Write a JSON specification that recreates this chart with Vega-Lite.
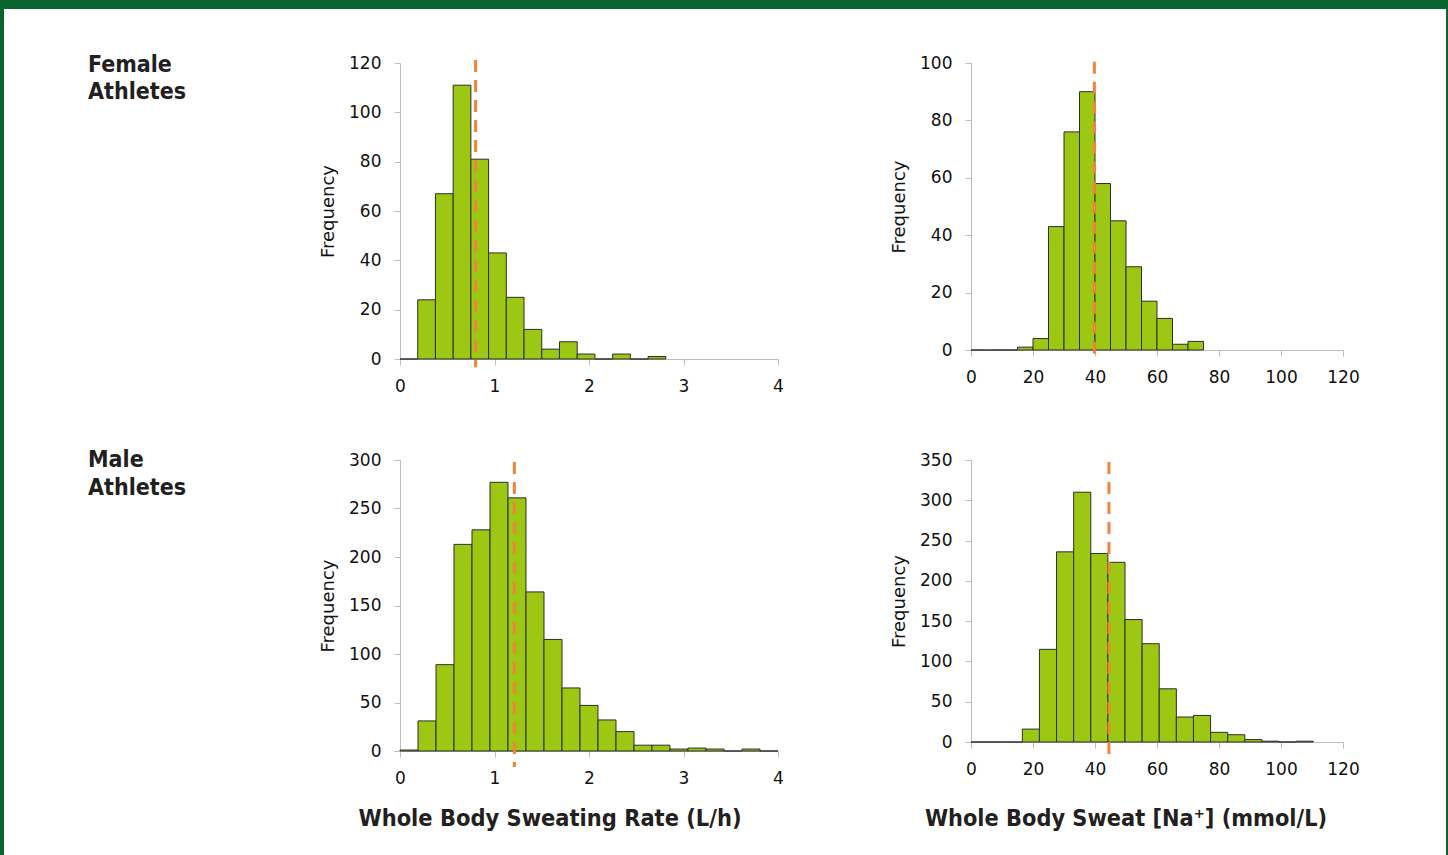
{
  "$schema": "https://vega.github.io/schema/vega-lite/v6.json",
  "background": "white",
  "padding": 0,
  "bounds": "flush",
  "spacing": 0,
  "columns": 7,
  "datasets": {
    "f_rate": [
      {"start": 0, "end": 0.1875, "count": 0},
      {"start": 0.1875, "end": 0.375, "count": 24},
      {"start": 0.375, "end": 0.5625, "count": 67},
      {"start": 0.5625, "end": 0.75, "count": 111},
      {"start": 0.75, "end": 0.9375, "count": 81},
      {"start": 0.9375, "end": 1.125, "count": 43},
      {"start": 1.125, "end": 1.3125, "count": 25},
      {"start": 1.3125, "end": 1.5, "count": 12},
      {"start": 1.5, "end": 1.6875, "count": 4},
      {"start": 1.6875, "end": 1.875, "count": 7},
      {"start": 1.875, "end": 2.0625, "count": 2},
      {"start": 2.0625, "end": 2.25, "count": 0},
      {"start": 2.25, "end": 2.4375, "count": 2},
      {"start": 2.4375, "end": 2.625, "count": 0},
      {"start": 2.625, "end": 2.8125, "count": 1}
    ],
    "f_na": [
      {"start": 0, "end": 5, "count": 0},
      {"start": 5, "end": 10, "count": 0},
      {"start": 10, "end": 15, "count": 0},
      {"start": 15, "end": 20, "count": 1},
      {"start": 20, "end": 25, "count": 4},
      {"start": 25, "end": 30, "count": 43},
      {"start": 30, "end": 35, "count": 76},
      {"start": 35, "end": 40, "count": 90},
      {"start": 40, "end": 45, "count": 58},
      {"start": 45, "end": 50, "count": 45},
      {"start": 50, "end": 55, "count": 29},
      {"start": 55, "end": 60, "count": 17},
      {"start": 60, "end": 65, "count": 11},
      {"start": 65, "end": 70, "count": 2},
      {"start": 70, "end": 75, "count": 3}
    ],
    "m_rate": [
      {"start": 0, "end": 0.1905, "count": 1},
      {"start": 0.1905, "end": 0.381, "count": 31},
      {"start": 0.381, "end": 0.5714, "count": 89},
      {"start": 0.5714, "end": 0.7619, "count": 213},
      {"start": 0.7619, "end": 0.9524, "count": 228},
      {"start": 0.9524, "end": 1.1429, "count": 277},
      {"start": 1.1429, "end": 1.3333, "count": 261},
      {"start": 1.3333, "end": 1.5238, "count": 164},
      {"start": 1.5238, "end": 1.7143, "count": 115},
      {"start": 1.7143, "end": 1.9048, "count": 65},
      {"start": 1.9048, "end": 2.0952, "count": 47},
      {"start": 2.0952, "end": 2.2857, "count": 32},
      {"start": 2.2857, "end": 2.4762, "count": 20},
      {"start": 2.4762, "end": 2.6667, "count": 6},
      {"start": 2.6667, "end": 2.8571, "count": 6},
      {"start": 2.8571, "end": 3.0476, "count": 2},
      {"start": 3.0476, "end": 3.2381, "count": 3},
      {"start": 3.2381, "end": 3.4286, "count": 2},
      {"start": 3.4286, "end": 3.619, "count": 0},
      {"start": 3.619, "end": 3.8095, "count": 2},
      {"start": 3.8095, "end": 4.0, "count": 0}
    ],
    "m_na": [
      {"start": 0, "end": 5.52, "count": 0},
      {"start": 5.52, "end": 11.04, "count": 0},
      {"start": 11.04, "end": 16.56, "count": 0},
      {"start": 16.56, "end": 22.08, "count": 16},
      {"start": 22.08, "end": 27.6, "count": 115},
      {"start": 27.6, "end": 33.12, "count": 236},
      {"start": 33.12, "end": 38.64, "count": 310},
      {"start": 38.64, "end": 44.16, "count": 234},
      {"start": 44.16, "end": 49.68, "count": 223},
      {"start": 49.68, "end": 55.2, "count": 152},
      {"start": 55.2, "end": 60.72, "count": 122},
      {"start": 60.72, "end": 66.24, "count": 66},
      {"start": 66.24, "end": 71.76, "count": 31},
      {"start": 71.76, "end": 77.28, "count": 33},
      {"start": 77.28, "end": 82.8, "count": 12},
      {"start": 82.8, "end": 88.32, "count": 9},
      {"start": 88.32, "end": 93.84, "count": 3},
      {"start": 93.84, "end": 99.36, "count": 1},
      {"start": 99.36, "end": 104.88, "count": 0},
      {"start": 104.88, "end": 110.4, "count": 1}
    ],
    "empty": []
  },
  "concat": [
    {"width": 4, "height": 9, "data": {"name": "empty"}, "mark": "rect", "view": {"fill": "#07652d", "stroke": null}},
    {"width": 396, "height": 9, "data": {"name": "empty"}, "mark": "rect", "view": {"fill": "#07652d", "stroke": null}},
    {"width": 378, "height": 9, "data": {"name": "empty"}, "mark": "rect", "view": {"fill": "#07652d", "stroke": null}},
    {"width": 193, "height": 9, "data": {"name": "empty"}, "mark": "rect", "view": {"fill": "#07652d", "stroke": null}},
    {"width": 372, "height": 9, "data": {"name": "empty"}, "mark": "rect", "view": {"fill": "#07652d", "stroke": null}},
    {"width": 103, "height": 9, "data": {"name": "empty"}, "mark": "rect", "view": {"fill": "#07652d", "stroke": null}},
    {"width": 2, "height": 9, "data": {"name": "empty"}, "mark": "rect", "view": {"fill": "#07652d", "stroke": null}},

    {"width": 4, "height": 54, "data": {"name": "empty"}, "mark": "rect", "view": {"fill": "#07652d", "stroke": null}},
    {"width": 1, "height": 1, "data": {"name": "empty"}, "mark": "rect"},
    {"width": 1, "height": 1, "data": {"name": "empty"}, "mark": "rect"},
    {"width": 1, "height": 1, "data": {"name": "empty"}, "mark": "rect"},
    {"width": 1, "height": 1, "data": {"name": "empty"}, "mark": "rect"},
    {"width": 1, "height": 1, "data": {"name": "empty"}, "mark": "rect"},
    {"width": 2, "height": 54, "data": {"name": "empty"}, "mark": "rect", "view": {"fill": "#07652d", "stroke": null}},

    {"width": 4, "height": 296, "data": {"name": "empty"}, "mark": "rect", "view": {"fill": "#07652d", "stroke": null}},
    {"width": 396, "height": 26, "data": {"values": [{"label": "Female\nAthletes"}]},
     "mark": {"type": "text", "align": "left", "baseline": "alphabetic", "dx": -114, "dy": -3.7, "lineBreak": "\n", "lineHeight": 27, "font": "DejaVu Sans Condensed, Liberation Sans Narrow, sans-serif", "fontWeight": "bold", "fontSize": 23, "color": "#231f20"},
     "encoding": {"text": {"field": "label", "type": "nominal"}}},
    {"width": 378, "height": 296,
     "layer": [
       {"data": {"name": "f_rate"},
        "mark": {"type": "bar", "fill": "#9cc813", "stroke": "#2d2d2d", "strokeWidth": 1},
        "encoding": {
          "x": {"field": "start", "type": "quantitative", "scale": {"domain": [0, 4], "nice": false}, "axis": {"values": [0, 1, 2, 3, 4], "format": "d", "title": null}},
          "x2": {"field": "end"},
          "y": {"field": "count", "type": "quantitative", "scale": {"domain": [0, 120], "nice": false}, "axis": {"values": [0, 20, 40, 60, 80, 100, 120], "title": "Frequency", "titleX": -72, "titleBaseline": "middle"}},
          "y2": {"datum": 0}
        }},
       {"data": {"values": [{"mean": 0.8}]},
        "mark": {"type": "rule", "color": "#f0843a", "strokeWidth": 3, "strokeDash": [12, 8]},
        "encoding": {"x": {"field": "mean", "type": "quantitative"}, "y": {"datum": 121.2}, "y2": {"datum": -3.3}}}
     ]},
    {"width": 1, "height": 1, "data": {"name": "empty"}, "mark": "rect"},
    {"width": 372, "height": 287,
     "layer": [
       {"data": {"name": "f_na"},
        "mark": {"type": "bar", "fill": "#9cc813", "stroke": "#2d2d2d", "strokeWidth": 1},
        "encoding": {
          "x": {"field": "start", "type": "quantitative", "scale": {"domain": [0, 120], "nice": false}, "axis": {"values": [0, 20, 40, 60, 80, 100, 120], "title": null}},
          "x2": {"field": "end"},
          "y": {"field": "count", "type": "quantitative", "scale": {"domain": [0, 100], "nice": false}, "axis": {"values": [0, 20, 40, 60, 80, 100], "title": "Frequency", "titleX": -72, "titleBaseline": "middle"}},
          "y2": {"datum": 0}
        }},
       {"data": {"values": [{"mean": 39.8}]},
        "mark": {"type": "rule", "color": "#f0843a", "strokeWidth": 3, "strokeDash": [12, 8]},
        "encoding": {"x": {"field": "mean", "type": "quantitative"}, "y": {"datum": 100.4}, "y2": {"datum": -2.4}}}
     ]},
    {"width": 1, "height": 1, "data": {"name": "empty"}, "mark": "rect"},
    {"width": 2, "height": 296, "data": {"name": "empty"}, "mark": "rect", "view": {"fill": "#07652d", "stroke": null}},

    {"width": 4, "height": 101, "data": {"name": "empty"}, "mark": "rect", "view": {"fill": "#07652d", "stroke": null}},
    {"width": 1, "height": 1, "data": {"name": "empty"}, "mark": "rect"},
    {"width": 1, "height": 1, "data": {"name": "empty"}, "mark": "rect"},
    {"width": 1, "height": 1, "data": {"name": "empty"}, "mark": "rect"},
    {"width": 1, "height": 1, "data": {"name": "empty"}, "mark": "rect"},
    {"width": 1, "height": 1, "data": {"name": "empty"}, "mark": "rect"},
    {"width": 2, "height": 101, "data": {"name": "empty"}, "mark": "rect", "view": {"fill": "#07652d", "stroke": null}},

    {"width": 4, "height": 291, "data": {"name": "empty"}, "mark": "rect", "view": {"fill": "#07652d", "stroke": null}},
    {"width": 396, "height": 26, "data": {"values": [{"label": "Male\nAthletes"}]},
     "mark": {"type": "text", "align": "left", "baseline": "alphabetic", "dx": -114, "dy": -5.7, "lineBreak": "\n", "lineHeight": 27.5, "font": "DejaVu Sans Condensed, Liberation Sans Narrow, sans-serif", "fontWeight": "bold", "fontSize": 23, "color": "#231f20"},
     "encoding": {"text": {"field": "label", "type": "nominal"}}},
    {"width": 378, "height": 291,
     "layer": [
       {"data": {"name": "m_rate"},
        "mark": {"type": "bar", "fill": "#9cc813", "stroke": "#2d2d2d", "strokeWidth": 1},
        "encoding": {
          "x": {"field": "start", "type": "quantitative", "scale": {"domain": [0, 4], "nice": false}, "axis": {"values": [0, 1, 2, 3, 4], "format": "d", "title": "Whole Body Sweating Rate (L/h)", "titleFont": "DejaVu Sans Condensed, Liberation Sans Narrow, sans-serif", "titleFontWeight": "bold", "titleFontSize": 23.4, "titleX": 149.5, "titleY": 74.7, "titleAlign": "center", "titleBaseline": "alphabetic", "titleColor": "#231f20"}},
          "x2": {"field": "end"},
          "y": {"field": "count", "type": "quantitative", "scale": {"domain": [0, 300], "nice": false}, "axis": {"values": [0, 50, 100, 150, 200, 250, 300], "title": "Frequency", "titleX": -72, "titleBaseline": "middle"}},
          "y2": {"datum": 0}
        }},
       {"data": {"values": [{"mean": 1.21}]},
        "mark": {"type": "rule", "color": "#f0843a", "strokeWidth": 3, "strokeDash": [12, 8]},
        "encoding": {"x": {"field": "mean", "type": "quantitative"}, "y": {"datum": 298}, "y2": {"datum": -16.5}}}
     ]},
    {"width": 1, "height": 1, "data": {"name": "empty"}, "mark": "rect"},
    {"width": 372, "height": 282,
     "layer": [
       {"data": {"name": "m_na"},
        "mark": {"type": "bar", "fill": "#9cc813", "stroke": "#2d2d2d", "strokeWidth": 1},
        "encoding": {
          "x": {"field": "start", "type": "quantitative", "scale": {"domain": [0, 120], "nice": false}, "axis": {"values": [0, 20, 40, 60, 80, 100, 120], "title": "Whole Body Sweat [Na⁺] (mmol/L)", "titleFont": "DejaVu Sans Condensed, Liberation Sans Narrow, sans-serif", "titleFontWeight": "bold", "titleFontSize": 23.3, "titleX": 154.5, "titleY": 83.7, "titleAlign": "center", "titleBaseline": "alphabetic", "titleColor": "#231f20"}},
          "x2": {"field": "end"},
          "y": {"field": "count", "type": "quantitative", "scale": {"domain": [0, 350], "nice": false}, "axis": {"values": [0, 50, 100, 150, 200, 250, 300, 350], "title": "Frequency", "titleX": -72, "titleBaseline": "middle"}},
          "y2": {"datum": 0}
        }},
       {"data": {"values": [{"mean": 44.5}]},
        "mark": {"type": "rule", "color": "#f0843a", "strokeWidth": 3, "strokeDash": [12, 8]},
        "encoding": {"x": {"field": "mean", "type": "quantitative"}, "y": {"datum": 347.5}, "y2": {"datum": -18.6}}}
     ]},
    {"width": 1, "height": 1, "data": {"name": "empty"}, "mark": "rect"},
    {"width": 2, "height": 291, "data": {"name": "empty"}, "mark": "rect", "view": {"fill": "#07652d", "stroke": null}},

    {"width": 4, "height": 104, "data": {"name": "empty"}, "mark": "rect", "view": {"fill": "#07652d", "stroke": null}},
    {"width": 1, "height": 1, "data": {"name": "empty"}, "mark": "rect"},
    {"width": 1, "height": 1, "data": {"name": "empty"}, "mark": "rect"},
    {"width": 1, "height": 1, "data": {"name": "empty"}, "mark": "rect"},
    {"width": 1, "height": 1, "data": {"name": "empty"}, "mark": "rect"},
    {"width": 1, "height": 1, "data": {"name": "empty"}, "mark": "rect"},
    {"width": 2, "height": 104, "data": {"name": "empty"}, "mark": "rect", "view": {"fill": "#07652d", "stroke": null}}
  ],
  "config": {
    "view": {"stroke": null},
    "axis": {
      "grid": false,
      "domainColor": "#bdbdbd",
      "tickColor": "#bdbdbd",
      "tickSize": 6,
      "labelFont": "DejaVu Sans",
      "labelFontSize": 17,
      "labelColor": "#111111",
      "labelOverlap": false,
      "labelFlush": false,
      "titleFont": "DejaVu Sans",
      "titleFontSize": 18,
      "titleFontWeight": "normal",
      "titleColor": "#111111"
    },
    "axisX": {"labelPadding": 13.5},
    "axisY": {"labelPadding": 13}
  }
}
